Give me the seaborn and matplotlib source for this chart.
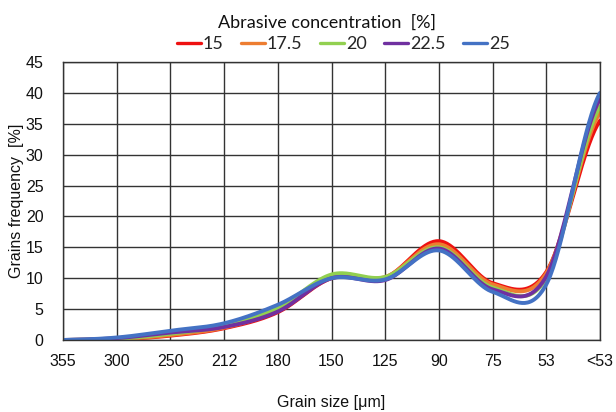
import numpy as np
import pandas as pd
import matplotlib
matplotlib.use("Agg")
import matplotlib.pyplot as plt
import seaborn as sns

# Sieve classes (coarse to fine) and grain frequency [%] per abrasive concentration
sizes = ["355", "300", "250", "212", "180", "150", "125", "90", "75", "53", "<53"]
conc_labels = ["15", "17.5", "20", "22.5", "25"]
freq_15 = [0.0, 0.1, 0.7, 1.9, 4.5, 10.0, 10.1, 16.0, 9.2, 11.0, 35.5]
freq_17_5 = [0.0, 0.1, 0.8, 2.0, 4.8, 10.3, 10.2, 15.5, 9.0, 10.8, 36.8]
freq_20 = [0.0, 0.2, 1.0, 2.3, 5.2, 10.6, 10.2, 15.0, 8.5, 10.0, 37.8]
freq_22_5 = [0.0, 0.3, 1.2, 2.1, 4.6, 10.0, 9.7, 14.8, 8.2, 10.3, 39.0]
freq_25 = [0.0, 0.4, 1.5, 2.7, 5.7, 10.0, 9.8, 14.5, 7.8, 9.0, 40.0]
series = [freq_15, freq_17_5, freq_20, freq_22_5, freq_25]
colors = ["#ee1111", "#ed7d31", "#92d050", "#7030a0", "#4472c4"]


def smooth(values, n=40):
    """Cubic Bezier smoothing through the points (spreadsheet-style smoothed line)."""
    y = np.asarray(values, dtype=float)
    m = len(y)
    xs, ys = [], []
    for i in range(m - 1):
        y0, y3 = y[i], y[i + 1]
        yp = y[i - 1] if i > 0 else y0
        yn = y[i + 2] if i + 2 < m else y3
        y1 = y0 + (y3 - yp) / 6.0
        y2 = y3 - (yn - y0) / 6.0
        t = np.linspace(0, 1, n, endpoint=(i == m - 2))
        ys.append((1 - t) ** 3 * y0 + 3 * (1 - t) ** 2 * t * y1
                  + 3 * (1 - t) * t ** 2 * y2 + t ** 3 * y3)
        xs.append(i + t)
    return np.concatenate(xs), np.concatenate(ys)


frames = []
for lab, vals in zip(conc_labels, series):
    sx, sy = smooth(vals)
    frames.append(pd.DataFrame({"pos": sx, "freq": sy, "conc": lab}))
df = pd.concat(frames, ignore_index=True)

sns.set_style("white")
plt.rcParams["font.family"] = ["Liberation Sans", "DejaVu Sans"]

fig = plt.figure(figsize=(6.16, 4.12), dpi=100)
ax = fig.add_axes([0.1023, 0.1748, 0.8717, 0.6747])

sns.lineplot(data=df, x="pos", y="freq", hue="conc", hue_order=conc_labels,
             palette=colors, sort=False, estimator=None, linewidth=2.8,
             ax=ax, legend=False)

ax.set_xlim(0, len(sizes) - 1)
ax.set_ylim(0, 45)
ax.set_xticks(range(len(sizes)))
ax.set_xticklabels(sizes)
ax.set_yticks(np.arange(0, 46, 5))
ax.grid(True, color="#333333", linewidth=1.0)
ax.set_axisbelow(True)
for s in ax.spines.values():
    s.set_color("#333333")
    s.set_linewidth(1.0)
ax.tick_params(axis="both", length=0, labelsize=11.5, colors="#111111")
ax.tick_params(axis="x", pad=10)
ax.tick_params(axis="y", pad=14)
ax.set_xlabel("Grain size [\u03bcm]", fontsize=11.5, color="#111111")
ax.xaxis.set_label_coords(0.5, -0.197)
ax.set_ylabel("Grains frequency  [%]", fontsize=11.5, color="#111111")
ax.yaxis.set_label_coords(-0.073, 0.5)

# Legend title and entries
fig.text(0.531, 0.945, "Abrasive concentration  [%]", ha="center", va="center",
         family="Lato", fontsize=13, color="#111111")
handles = [plt.Line2D([], [], color=c, linewidth=2.4) for c in colors]
fig.legend(handles, conc_labels, loc="center", bbox_to_anchor=(0.557, 0.893),
           ncol=5, frameon=False, handlelength=1.35, handletextpad=0.1,
           columnspacing=0.95, borderaxespad=0.0,
           prop={"family": "Lato", "size": 13})

fig.savefig("out.png", dpi=100, facecolor="white")
